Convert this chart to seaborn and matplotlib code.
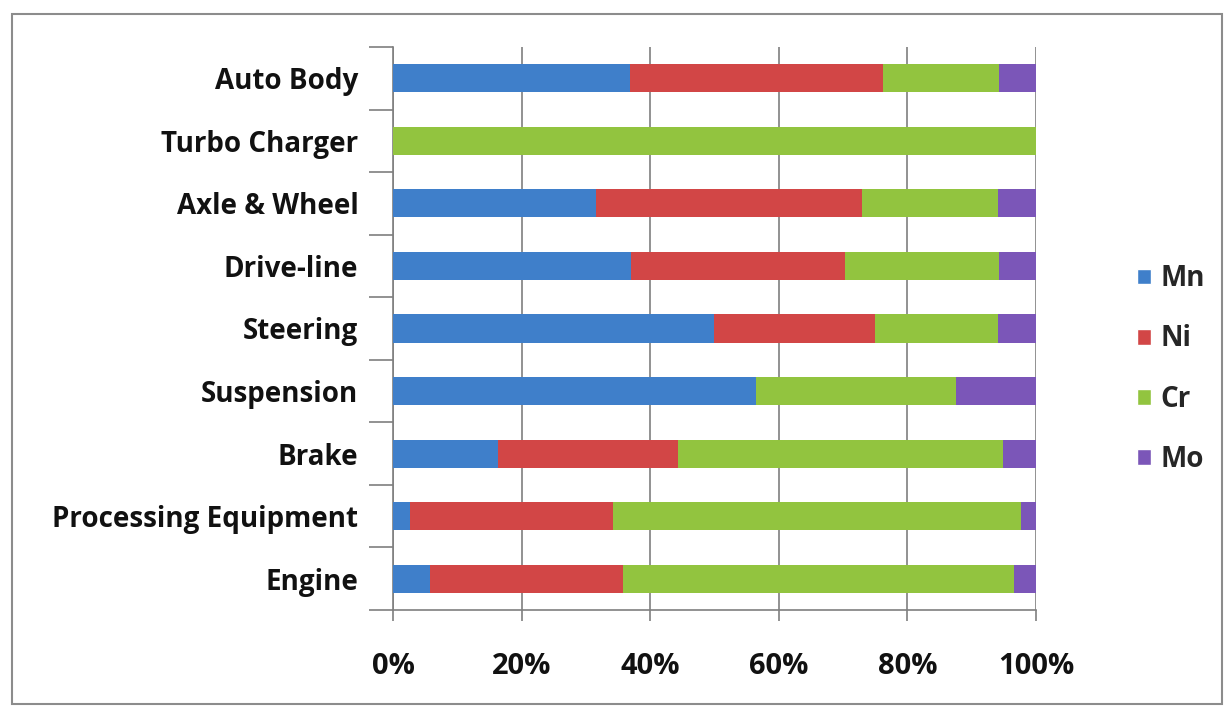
import numpy as np
import pandas as pd
import matplotlib
matplotlib.use("Agg")
import matplotlib.pyplot as plt
import seaborn as sns
from matplotlib.patches import Patch, Rectangle
from matplotlib.ticker import FixedLocator, PercentFormatter

# Share of each alloying element per vehicle component (percent)
components = ["Auto Body", "Turbo Charger", "Axle & Wheel", "Drive-line", "Steering",
              "Suspension", "Brake", "Processing Equipment", "Engine"]
mn = [36.9, 0.0, 31.6, 37.0, 49.9, 56.4, 16.3, 2.7, 5.8]
ni = [39.3, 0.0, 41.4, 33.3, 25.0, 0.0, 28.0, 31.5, 30.0]
cr = [18.1, 100.0, 21.1, 24.0, 19.2, 31.1, 50.5, 63.4, 60.8]
mo = [5.7, 0.0, 5.9, 5.7, 5.9, 12.5, 5.2, 2.4, 3.4]

elements = ["Mn", "Ni", "Cr", "Mo"]
colors = {"Mn": "#3f7fca", "Ni": "#d24646", "Cr": "#92c43f", "Mo": "#7b56b8"}

df = pd.DataFrame({"component": components, "Mn": mn, "Ni": ni, "Cr": cr, "Mo": mo})
cum = df[elements].cumsum(axis=1)
cum["component"] = df["component"]

sns.set_style("white")
plt.rcParams["font.family"] = ["Open Sans", "DejaVu Sans"]
plt.rcParams["font.weight"] = "bold"

fig = plt.figure(figsize=(12.31, 7.10), dpi=100)
ax = fig.add_axes([393 / 1231, 1 - 610 / 710, (1036 - 393) / 1231, (610 - 47) / 710])

# draw back to front so each stacked segment shows
for el in reversed(elements):
    sns.barplot(data=cum, x=el, y="component", order=components, orient="h",
                color=colors[el], width=0.45, saturation=1, linewidth=0,
                ax=ax, zorder=3)

ax.set_xlim(0, 100)
ax.set_ylim(len(components) - 0.5, -0.5)
ax.set_xlabel("")
ax.set_ylabel("")

ax.xaxis.set_major_locator(FixedLocator([0, 20, 40, 60, 80, 100]))
ax.xaxis.set_major_formatter(PercentFormatter(decimals=0))
ax.grid(axis="x", color="#7f7f7f", lw=1.2, zorder=1)
ax.grid(axis="y", visible=False)

ax.yaxis.set_minor_locator(FixedLocator(np.arange(-0.5, len(components), 1)))
ax.tick_params(axis="y", which="major", length=0, pad=25, labelsize=20)
ax.tick_params(axis="y", which="minor", length=17, width=1.2, color="#7f7f7f", left=True)
ax.tick_params(axis="x", which="major", length=8, width=1.2, color="#7f7f7f",
               bottom=True, pad=22, labelsize=21)

for side in ["top", "right"]:
    ax.spines[side].set_visible(False)
for side in ["left", "bottom"]:
    ax.spines[side].set_color("#7f7f7f")
    ax.spines[side].set_linewidth(1.2)

for lab in ax.get_yticklabels() + ax.get_xticklabels():
    lab.set_fontweight("bold")
    lab.set_color("#111111")

handles = [Patch(facecolor=colors[el], label=el) for el in elements]
fig.legend(handles=handles, loc="center left", bbox_to_anchor=(1126 / 1231, 1 - 369 / 710),
           frameon=False, borderaxespad=0, handlelength=0.5, handleheight=0.5,
           handletextpad=0.35, labelspacing=1.12, prop={"weight": "bold", "size": 20})

# outer chart border
fig.patches.append(Rectangle((12 / 1231, 6 / 710), 1210 / 1231, 690 / 710,
                             transform=fig.transFigure, fill=False,
                             edgecolor="#8c8c8c", lw=1.5))

fig.savefig("out.png", dpi=100)
